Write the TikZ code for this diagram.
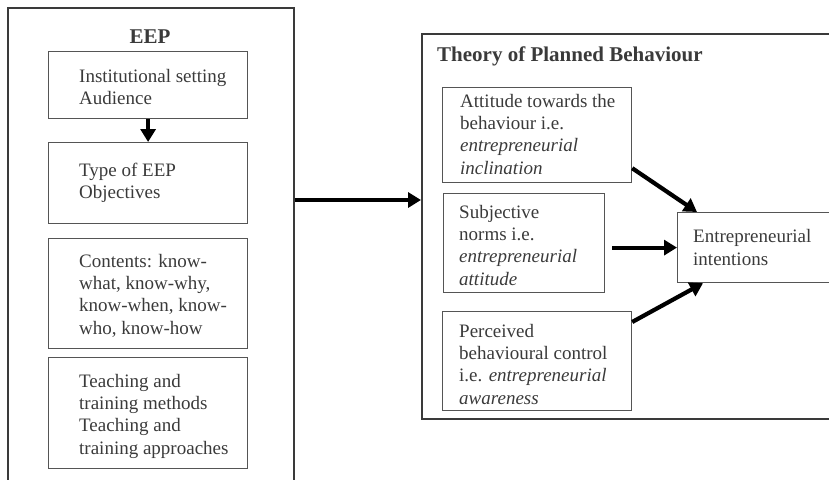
\documentclass[tikz,border=0pt]{standalone}
\usepackage{fontspec}
\setmainfont{Liberation Serif}
\usetikzlibrary{arrows.meta,calc}
\definecolor{txtc}{HTML}{3A3A3A}
\definecolor{lnc}{HTML}{555555}
\definecolor{frc}{HTML}{3A3A3A}
\begin{document}
\begin{tikzpicture}[x=1pt,y=1pt,
  box/.style={draw=lnc,line width=1.2pt,inner sep=0pt,anchor=north west},
  frame/.style={draw=frc,line width=1.5pt,inner sep=0pt,anchor=north west},
  txt/.style={text=txtc,anchor=west,align=left,inner sep=0pt,font=\fontsize{19}{22.3}\selectfont},
  ttl/.style={text=txtc,inner sep=0pt,font=\fontsize{21}{24}\selectfont\bfseries},
  arr/.style={draw=black,line width=4.2pt,-{Triangle[length=13pt,width=15pt]}}]
\useasboundingbox (0,0) rectangle (829,-479);
% outer frames
\node[frame,minimum width=286,minimum height=530] (eep) at (7,-7) {};
\node[frame,minimum width=440,minimum height=385] (tpb) at (421,-33) {};
\node[ttl,anchor=base] (eept) at (150,-43) {EEP};
\node[ttl,anchor=base west] (tpbt) at (437,-61) {Theory of Planned Behaviour};
% EEP boxes
\node[box,minimum width=199,minimum height=67] (b1) at (48,-51) {};
\node[box,minimum width=199,minimum height=81] (b2) at (48,-142) {};
\node[box,minimum width=199,minimum height=110] (b3) at (48,-238) {};
\node[box,minimum width=199,minimum height=111] (b4) at (48,-357) {};
\node[txt] (t1) at ($(b1.west)+(31,-2)$) {Institutional setting\\Audience};
\node[txt] (t2) at ($(b2.west)+(31,0)$) {Type of EEP\\Objectives};
\node[txt] (t3) at ($(b3.west)+(31,-2)$) {Contents: know-\\what, know-why,\\know-when, know-\\who, know-how};
\node[txt] (t4) at ($(b4.west)+(31,-3)$) {Teaching and\\training methods\\Teaching and\\training approaches};
% TPB boxes
\node[box,minimum width=189,minimum height=95] (att) at (442,-87) {};
\node[box,minimum width=161,minimum height=99] (sub) at (443,-193) {};
\node[box,minimum width=189,minimum height=99] (per) at (442,-311) {};
\node[box,minimum width=180,minimum height=70] (ei) at (677,-212) {};
\node[txt] (ta) at ($(att.west)+(18,1)$) {Attitude towards the\\behaviour i.e.\\\textit{entrepreneurial}\\\textit{inclination}};
\node[txt] (ts) at ($(sub.west)+(16,-2)$) {Subjective\\norms i.e.\\\textit{entrepreneurial}\\\textit{attitude}};
\node[txt] (tp) at ($(per.west)+(17,-3)$) {Perceived\\behavioural control\\i.e. \textit{entrepreneurial}\\\textit{awareness}};
\node[txt] (te) at ($(ei.west)+(16,0)$) {Entrepreneurial\\intentions};
% arrows
\draw[arr] (b1.south) -- (b2.north);
\coordinate (m0) at (0,-200);
\draw[arr] (eep.east |- m0) -- (tpb.west |- m0);
\draw[arr] ($(att.south east)+(0,15)$) -- ($(ei.north west)+(20,0)$);
\coordinate (m1) at ($(sub.east)+(7,0)$);
\draw[arr] (m1 |- ei.west) -- (ei.west);
\draw[arr] ($(per.north east)+(0,-11)$) -- ($(ei.south west)+(26,0)$);
\end{tikzpicture}
\end{document}
